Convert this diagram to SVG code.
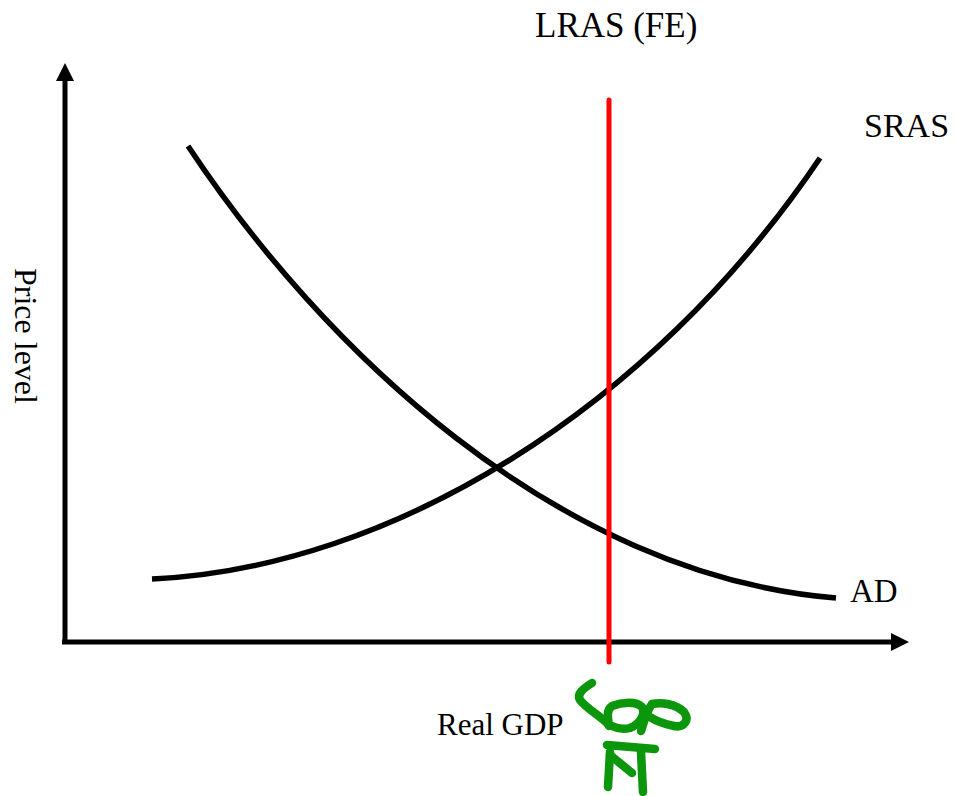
<svg xmlns="http://www.w3.org/2000/svg" width="956" height="796" viewBox="0 0 956 796">
<style>
.lbl{font-family:"Liberation Serif","Times New Roman",serif;fill:#000}
.curve{fill:none;stroke:#000;stroke-width:5.5}
.ax{stroke:#000;stroke-width:5;fill:none}
.ink{fill:none;stroke:#0b960b;stroke-width:8.5;stroke-linecap:round;stroke-linejoin:round}
</style>
<defs>
<marker id="ah" viewBox="0 0 10 10" refX="0" refY="5" markerWidth="3.6" markerHeight="3.6" orient="auto" markerUnits="strokeWidth">
<path d="M0,0 L10,5 L0,10 Z" fill="#000"/>
</marker>
</defs>
<rect width="956" height="796" fill="#fff"/>
<g id="connectors">
<path id="y-axis" class="ax" d="M65,644 L65,81" marker-end="url(#ah)"/>
<path id="x-axis" class="ax" d="M62,642 L891,642" marker-end="url(#ah)"/>
</g>
<g id="AD">
<path class="curve" d="M188,146 C320,345 555,575 836,598"/>
<text class="lbl" x="850" y="602" font-size="33">AD</text>
</g>
<g id="SRAS">
<path class="curve" d="M152,579 C390,568 650,410 820,158"/>
<text class="lbl" x="864" y="137" font-size="34">SRAS</text>
</g>
<g id="LRAS">
<line x1="609" y1="100" x2="609" y2="662" stroke="#ff0000" stroke-width="5" stroke-linecap="round"/>
<text class="lbl" x="535" y="37" font-size="35">LRAS (FE)</text>
</g>
<g id="y-label">
<text class="lbl" font-size="32" transform="translate(15,268) rotate(90)">Price level</text>
</g>
<g id="x-label">
<text class="lbl" x="437" y="735" font-size="31">Real GDP</text>
</g>
<g id="annotation">
<path class="ink" d="M592,683 C584,688 576,694 580,700 C586,708 600,716 608,724"/>
<path class="ink" d="M609,726 C608,718 606,710 612,706 C622,702 636,701 642,707 C646,714 640,724 630,728 C622,730 616,728 612,726"/>
<path class="ink" d="M641,731 C644,722 646,712 652,704 C662,702 676,704 684,712 C690,720 684,728 674,726 C664,724 656,721 650,717"/>
<path class="ink" d="M607,745 L655,749"/>
<path class="ink" d="M610,752 L608,787"/>
<path class="ink" d="M610,755 L632,773"/>
<path class="ink" d="M641,752 L643,792"/>
</g>
</svg>
